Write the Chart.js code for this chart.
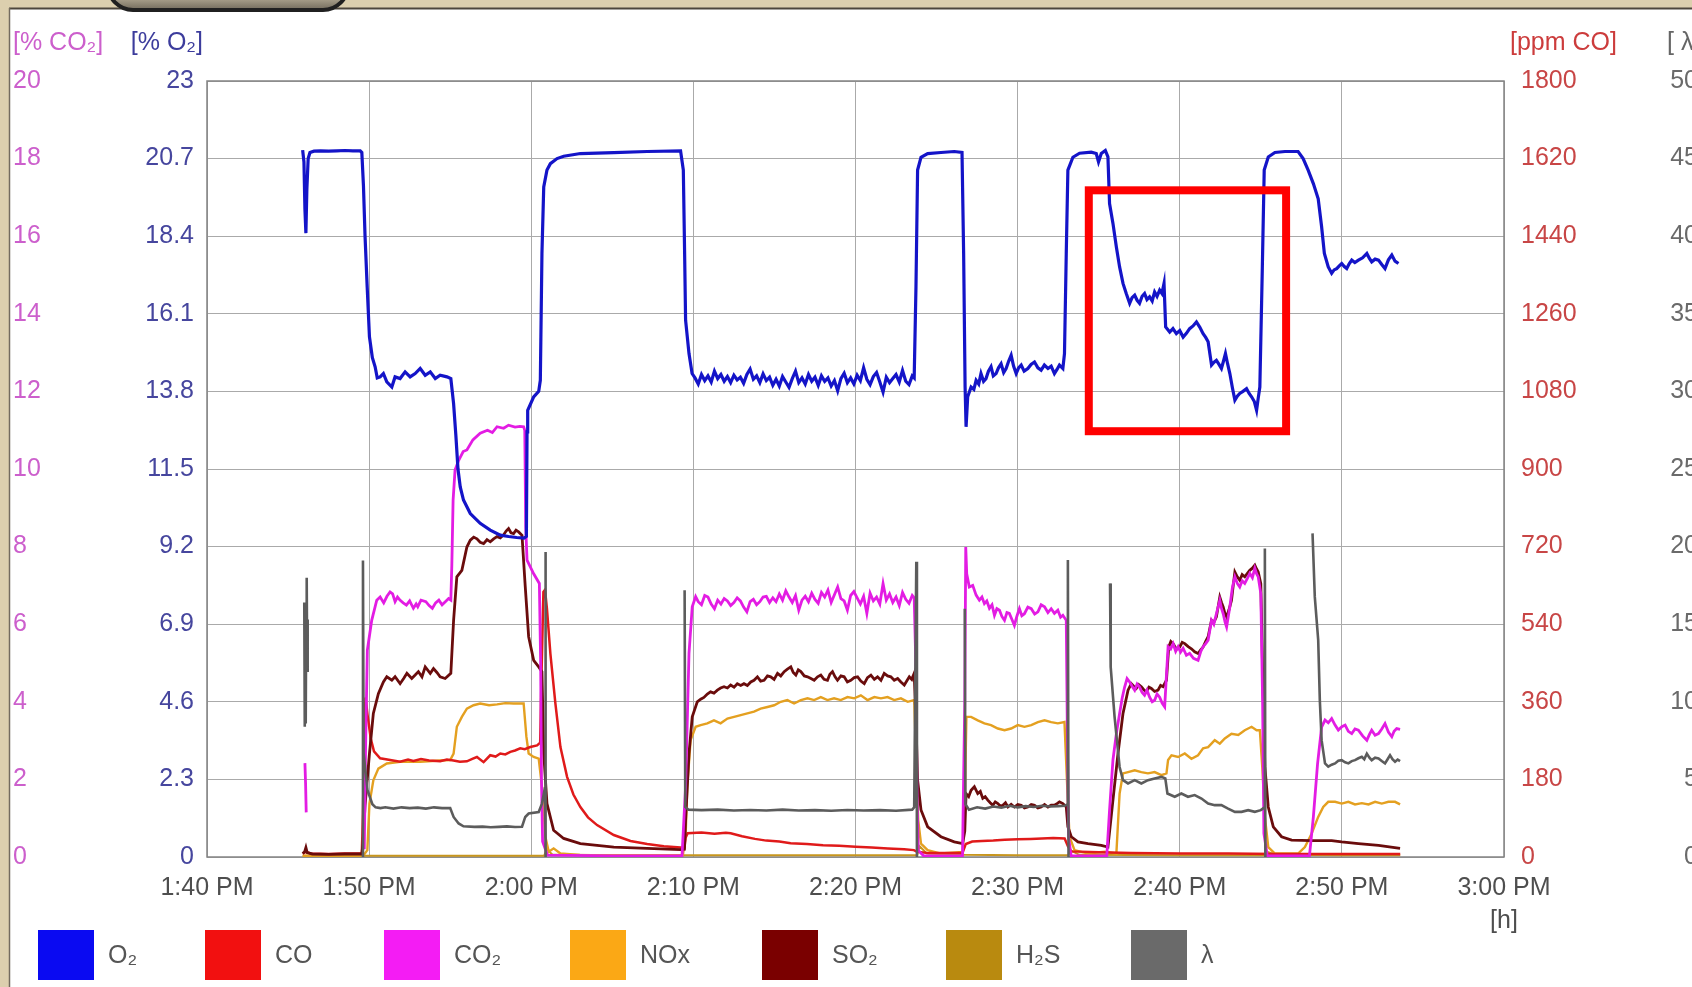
<!DOCTYPE html>
<html>
<head>
<meta charset="utf-8">
<script src="https://cdn.jsdelivr.net/npm/chart.js@4.4.1/dist/chart.umd.min.js"></script>
<style>
  html, body { margin: 0; padding: 0; background: #ffffff; overflow: hidden; }
  #wrap { position: relative; width: 1700px; height: 987px; }
  canvas { display: block; }
</style>
</head>
<body>
<div id="wrap"><canvas id="flue" width="1700" height="987"></canvas></div>
<script>
// Time axis: minutes after 1:40 PM
const timeTickMinutes = [0, 10, 20, 30, 40, 50, 60, 70, 80];
const timeTickLabels = ['1:40 PM', '1:50 PM', '2:00 PM', '2:10 PM', '2:20 PM', '2:30 PM', '2:40 PM', '2:50 PM', '3:00 PM'];

const co2TickValues = [0, 2, 4, 6, 8, 10, 12, 14, 16, 18, 20];
const o2TickValues = [0, 2.3, 4.6, 6.9, 9.2, 11.5, 13.8, 16.1, 18.4, 20.7, 23];
const o2TickLabels = ['0', '2.3', '4.6', '6.9', '9.2', '11.5', '13.8', '16.1', '18.4', '20.7', '23'];
const coTickValues = [0, 180, 360, 540, 720, 900, 1080, 1260, 1440, 1620, 1800];
const lambdaTickValues = [0, 5, 10, 15, 20, 25, 30, 35, 40, 45, 50];

// Readings as [minute, value]; null marks a gap in the record
const o2Readings = [
  [5.90,20.95],[5.98,20.6],[6.04,19.2],[6.10,18.49],[6.16,19.8],[6.24,20.7],[6.35,20.88],[6.60,20.92],
  [7.00,20.93],[7.50,20.92],[8.00,20.93],[8.50,20.94],[9.00,20.93],[9.45,20.93],[9.55,20.88],[9.65,19.9],
  [9.75,18.38],[9.88,16.9],[10.02,15.42],[10.20,14.8],[10.37,14.53],[10.50,14.2],[10.68,14.23],[10.88,14.33],
  [11.09,14.08],[11.40,13.93],[11.60,14.23],[11.91,14.18],[12.22,14.38],[12.53,14.23],[12.84,14.33],[13.15,14.48],
  [13.46,14.28],[13.77,14.38],[14.08,14.18],[14.38,14.28],[14.80,14.23],[15.04,14.18],[15.21,13.44],[15.35,12.5],
  [15.48,11.5],[15.62,10.97],[15.82,10.58],[16.24,10.18],[16.85,9.89],[17.47,9.69],[18.09,9.54],[18.60,9.5],
  [19.10,9.47],[19.55,9.45],[19.70,9.5],[19.74,12.6],[19.78,13.24],[20.15,13.64],[20.46,13.80],[20.56,14.13],
  [20.66,17.89],[20.77,19.86],[20.97,20.36],[21.18,20.55],[21.59,20.70],[22.00,20.77],[23.03,20.85],[25.09,20.88],
  [27.15,20.91],[29.21,20.93],[29.38,20.36],[29.46,17.89],[29.52,15.91],[29.73,14.92],[29.92,14.33],
  [30.10,14.20],[30.30,14.02],[30.50,14.30],[30.70,14.12],[30.90,14.26],[31.10,14.08],[31.30,14.40],[31.50,14.18],
  [31.70,14.30],[31.90,14.10],[32.10,14.24],[32.30,14.06],[32.50,14.28],[32.70,14.14],[32.90,14.22],[33.10,14.04],
  [33.30,14.30],[33.50,14.46],[33.70,14.16],[33.90,14.26],[34.10,14.06],[34.30,14.32],[34.50,14.12],[34.70,14.22],
  [34.90,13.98],[35.10,14.16],[35.30,13.96],[35.50,14.24],[35.70,14.08],[35.90,13.92],[36.10,14.18],[36.30,14.40],
  [36.50,14.06],[36.70,14.20],[36.90,14.02],[37.10,14.30],[37.30,14.10],[37.50,14.22],[37.70,13.98],[37.90,14.26],
  [38.10,14.10],[38.30,14.20],[38.50,13.96],[38.70,14.12],[38.90,13.82],[39.10,14.18],[39.30,14.34],[39.50,14.06],
  [39.70,14.20],[39.90,14.02],[40.10,14.28],[40.30,14.12],[40.50,14.50],[40.70,14.16],[40.90,14.00],[41.10,14.24],
  [41.30,14.36],[41.50,14.08],[41.70,13.78],[41.90,14.22],[42.10,14.06],[42.30,14.18],[42.50,14.30],[42.70,14.08],
  [42.90,14.42],[43.10,14.10],[43.30,14.00],[43.50,14.26],[43.62,14.20],
  [43.73,16.90],[43.83,20.36],[44.04,20.74],[44.45,20.85],[45.27,20.88],[46.09,20.91],[46.57,20.88],[46.67,17.89],
  [46.76,13.93],[46.82,12.75],[46.92,13.64],[47.13,13.93],[47.30,13.86],[47.44,14.13],[47.60,14.02],[47.74,14.33],
  [47.90,14.10],[48.05,14.18],[48.20,14.40],[48.36,14.53],[48.50,14.26],[48.67,14.33],[48.82,14.50],[48.98,14.62],
  [49.14,14.36],[49.29,14.48],[49.45,14.70],[49.60,14.87],[49.75,14.55],[49.91,14.33],[50.06,14.50],[50.22,14.58],
  [50.40,14.40],[50.63,14.48],[50.83,14.60],[51.04,14.67],[51.25,14.50],[51.45,14.43],[51.65,14.58],[51.87,14.48],
  [52.07,14.55],[52.27,14.33],[52.43,14.45],[52.58,14.58],[52.79,14.48],[52.89,14.92],[53.00,17.89],[53.10,20.36],
  [53.41,20.74],[53.82,20.86],[54.54,20.89],[54.85,20.85],[54.99,20.60],[55.16,20.85],[55.41,20.94],[55.57,20.75],
  [55.67,19.37],[55.88,18.78],[56.09,18.08],[56.29,17.49],[56.50,17.00],[56.70,16.70],[56.91,16.41],[57.06,16.58],
  [57.22,16.65],[57.37,16.50],[57.52,16.41],[57.68,16.62],[57.83,16.70],[57.98,16.52],[58.14,16.60],[58.30,16.48],
  [58.45,16.75],[58.60,16.62],[58.76,16.80],[58.90,16.70],[59.03,17.00],[59.13,15.71],[59.38,15.56],[59.58,15.66],
  [59.79,15.51],[60.00,15.60],[60.21,15.41],[60.41,15.52],[60.61,15.66],[60.82,15.74],[61.03,15.86],[61.24,15.70],
  [61.44,15.51],[61.60,15.40],[61.75,15.27],[61.96,14.58],[62.10,14.66],[62.26,14.72],[62.42,14.60],[62.57,14.48],
  [62.70,14.70],[62.82,14.92],[62.95,14.62],[63.09,14.33],[63.25,13.90],[63.40,13.54],[63.55,13.66],[63.70,13.74],
  [63.90,13.80],[64.12,13.88],[64.28,13.74],[64.43,13.64],[64.60,13.50],[64.74,13.24],[64.84,13.60],[64.94,13.93],
  [65.09,17.39],[65.21,20.36],[65.46,20.75],[65.87,20.88],[66.49,20.91],[67.30,20.91],[67.61,20.70],[67.92,20.36],
  [68.24,19.96],[68.54,19.51],[68.75,18.68],[68.92,17.89],[69.16,17.49],[69.37,17.30],[69.52,17.40],[69.68,17.44],
  [69.84,17.52],[69.99,17.59],[70.15,17.50],[70.30,17.44],[70.45,17.58],[70.61,17.69],[70.80,17.62],[71.02,17.69],
  [71.28,17.76],[71.54,17.89],[71.70,17.74],[71.84,17.64],[72.05,17.72],[72.26,17.69],[72.46,17.56],[72.66,17.44],
  [72.87,17.70],[73.08,17.84],[73.28,17.66],[73.49,17.59]
];

const co2Readings = [
  [6.04,2.42],[6.08,1.9],[6.12,1.15],[6.20,null],
  [9.70,0.2],[9.78,2.8],[9.89,5.33],[10.16,6.10],[10.47,6.62],[10.68,6.70],[10.90,6.55],[11.10,6.72],[11.29,6.83],
  [11.45,6.78],[11.60,6.58],[11.75,6.70],[11.90,6.62],[12.10,6.55],[12.30,6.49],[12.50,6.60],[12.73,6.41],[12.90,6.52],
  [13.00,6.45],[13.20,6.62],[13.50,6.58],[13.70,6.48],[13.90,6.41],[14.10,6.55],[14.30,6.62],[14.50,6.50],[14.70,6.58],
  [14.90,6.66],[15.04,6.62],[15.10,7.5],[15.18,9.2],[15.30,9.97],[15.50,10.2],[15.80,10.45],[16.03,10.49],
  [16.40,10.75],[16.85,10.92],[17.30,11.0],[17.60,10.94],[17.89,11.09],[18.30,11.05],[18.60,11.13],[19.00,11.08],
  [19.30,11.1],[19.53,11.09],[19.60,11.0],[19.66,8.5],[19.74,7.65],[20.15,7.3],[20.50,7.05],[20.58,5.0],[20.63,2.0],
  [20.70,0.4],[21.00,0.05],[25.00,0.03],[29.30,0.03],[29.52,1.81],[29.73,5.25],[29.93,6.45],[30.14,6.71],
  [30.30,6.58],[30.50,6.50],[30.70,6.74],[30.90,6.70],[31.10,6.52],[31.30,6.40],[31.50,6.62],[31.70,6.52],
  [31.90,6.66],[32.10,6.60],[32.30,6.48],[32.50,6.56],[32.70,6.68],[32.90,6.60],[33.10,6.44],[33.30,6.32],
  [33.50,6.58],[33.70,6.64],[33.90,6.50],[34.10,6.58],[34.30,6.70],[34.50,6.72],[34.70,6.56],[34.90,6.68],
  [35.10,6.58],[35.30,6.78],[35.50,6.62],[35.70,6.86],[35.90,6.70],[36.10,6.56],[36.30,6.74],[36.50,6.36],
  [36.70,6.62],[36.90,6.72],[37.10,6.58],[37.30,6.80],[37.50,6.64],[37.70,6.54],[37.90,6.82],[38.10,6.70],
  [38.30,6.88],[38.50,6.56],[38.70,6.76],[38.90,6.96],[39.10,6.66],[39.30,6.60],[39.50,6.36],[39.70,6.74],
  [39.90,6.84],[40.10,6.68],[40.30,6.52],[40.50,6.72],[40.70,6.28],[40.90,6.80],[41.10,6.60],[41.30,6.70],
  [41.50,6.52],[41.70,7.05],[41.90,6.62],[42.10,6.78],[42.30,6.56],[42.50,6.70],[42.70,6.48],[42.90,6.82],
  [43.10,6.64],[43.30,6.54],[43.50,6.74],[43.62,6.68],[43.73,4.82],[43.79,1.81],[43.87,0.17],[44.20,0.03],
  [46.60,0.03],[46.74,4.0],[46.80,7.99],[46.86,7.3],[47.02,6.96],[47.23,7.0],[47.44,6.75],[47.64,6.62],
  [47.80,6.70],[47.95,6.53],[48.10,6.60],[48.26,6.41],[48.42,6.50],[48.57,6.23],[48.72,6.40],[48.88,6.36],
  [49.03,6.20],[49.19,6.10],[49.34,6.30],[49.49,6.28],[49.65,6.12],[49.80,5.97],[49.95,6.20],[50.11,6.40],
  [50.26,6.22],[50.42,6.27],[50.63,6.44],[50.84,6.40],[51.05,6.26],[51.25,6.32],[51.45,6.50],[51.66,6.45],
  [51.87,6.30],[52.07,6.40],[52.27,6.28],[52.48,6.36],[52.65,6.18],[52.79,6.23],[53.00,6.10],[53.06,3.53],
  [53.14,0.52],[53.30,0.03],[55.50,0.03],[55.67,1.21],[55.88,2.50],[56.09,3.18],[56.29,3.70],[56.45,4.10],
  [56.60,4.38],[56.75,4.60],[56.91,4.51],[57.06,4.40],[57.22,4.30],[57.37,4.46],[57.52,4.38],[57.68,4.24],
  [57.83,4.17],[57.98,4.30],[58.14,4.12],[58.30,4.00],[58.45,4.04],[58.60,4.20],[58.76,4.12],[58.92,3.96],
  [59.07,3.87],[59.28,5.42],[59.44,5.36],[59.59,5.50],[59.75,5.30],[59.90,5.42],[60.05,5.28],[60.21,5.38],
  [60.41,5.20],[60.61,5.25],[60.85,5.12],[61.13,5.07],[61.30,5.30],[61.44,5.42],[61.60,5.50],[61.75,5.59],
  [61.96,6.10],[62.10,6.00],[62.26,6.27],[62.47,6.62],[62.58,6.40],[62.68,6.27],[62.80,6.05],[62.89,5.93],
  [63.09,6.45],[63.25,6.95],[63.40,7.22],[63.55,7.05],[63.70,6.96],[63.85,7.12],[64.01,7.05],[64.17,7.18],
  [64.32,7.31],[64.48,7.20],[64.63,7.44],[64.74,7.30],[64.84,7.22],[65.00,6.79],[65.11,4.04],[65.19,0.61],
  [65.40,0.03],[68.00,0.03],[68.24,1.03],[68.50,2.4],[68.75,3.35],[68.96,3.53],[69.16,3.46],[69.37,3.57],
  [69.58,3.40],[69.78,3.27],[70.00,3.36],[70.20,3.40],[70.40,3.24],[70.61,3.18],[70.81,3.30],[71.02,3.27],
  [71.28,3.12],[71.54,3.01],[71.70,3.16],[71.84,3.27],[72.05,3.14],[72.26,3.18],[72.46,3.30],[72.66,3.44],
  [72.87,3.22],[73.08,3.10],[73.22,3.24],[73.38,3.31],[73.59,3.29]
];

const coReadings = [
  [5.90,8],[6.10,12],[6.40,8],[7.50,7],[8.50,8],[9.55,8],[9.62,100],[9.70,300],[9.78,370],[9.90,330],[10.10,275],
  [10.30,245],[10.68,229],[11.30,225],[11.91,221],[12.40,226],[12.73,223],[13.20,227],[13.70,224],[14.38,222],
  [14.80,226],[15.20,224],[15.60,221],[16.03,222],[16.40,228],[16.65,232],[17.06,220],[17.47,236],[17.80,233],
  [18.09,240],[18.40,238],[18.71,244],[19.00,247],[19.32,252],[19.60,250],[19.94,255],[20.36,259],[20.55,265],
  [20.65,450],[20.75,615],[20.85,620],[20.97,575],[21.18,472],[21.49,356],[21.80,255],[22.21,186],[22.60,145],
  [23.03,116],[23.50,92],[24.06,74],[25.09,51],[26.12,37],[27.15,30],[28.18,25],[29.21,22],[29.45,22],[29.52,45],
  [29.65,55],[30.50,57],[31.30,54],[32.00,56],[32.30,55],[33.00,48],[33.80,42],[34.50,38],[35.30,36],[36.00,32],
  [37.00,30],[38.00,27],[39.00,26],[40.00,24],[41.00,22],[42.00,20],[43.00,18],[43.60,16],[43.80,12],[44.50,9],
  [46.60,9],[46.80,30],[47.20,36],[47.80,37],[48.50,38],[49.20,40],[50.00,41],[50.80,42],[51.50,43],[52.20,44],
  [52.90,43],[53.10,25],[53.30,13],[55.00,11],[57.00,9],[60.00,8],[63.00,8],[66.00,7],[70.00,7],[73.60,7]
];

const noxReadings = [
  [5.90,3],[7.50,3],[9.55,3],[9.70,6],[9.89,16],[10.02,124],[10.26,178],[10.57,205],[11.09,217],[11.91,221],
  [13.15,221],[14.38,224],[15.00,225],[15.21,240],[15.41,302],[15.72,325],[16.03,344],[16.44,352],[16.85,356],
  [17.40,352],[17.89,354],[18.40,357],[18.91,356],[19.53,356],[19.70,279],[19.84,240],[20.15,232],[20.46,228],
  [20.66,163],[20.87,47],[21.08,12],[21.38,20],[21.80,8],[23.00,5],[26.00,4],[29.35,4],[29.52,47],[29.62,163],
  [29.83,271],[30.14,302],[30.45,306],[30.86,310],[31.27,317],[31.68,310],[32.10,321],[32.51,325],[32.92,329],
  [33.33,333],[33.74,337],[34.15,344],[34.57,348],[34.98,352],[35.39,360],[35.80,364],[36.21,356],[36.63,364],
  [37.04,368],[37.45,364],[37.86,371],[38.27,364],[38.68,368],[39.09,364],[39.51,371],[39.92,368],[40.33,375],
  [40.74,364],[41.16,371],[41.57,368],[41.98,371],[42.39,364],[42.80,368],[43.22,360],[43.62,364],[43.73,240],
  [43.87,85],[44.04,31],[44.45,16],[45.27,8],[46.61,12],[46.76,163],[46.84,325],[47.13,325],[47.54,317],
  [47.95,310],[48.36,306],[48.78,298],[49.19,294],[49.60,298],[50.01,306],[50.42,302],[50.84,306],[51.25,313],
  [51.66,317],[52.07,313],[52.48,310],[52.89,313],[53.06,163],[53.20,47],[53.51,16],[54.34,8],[55.37,12],
  [56.09,8],[56.29,147],[56.50,194],[56.81,197],[57.22,201],[57.63,197],[58.04,194],[58.45,197],[58.87,190],
  [59.18,194],[59.28,225],[59.49,236],[59.90,232],[60.31,240],[60.72,228],[61.13,236],[61.44,252],[61.75,255],
  [62.16,271],[62.47,263],[62.78,275],[63.19,286],[63.61,283],[64.01,294],[64.43,302],[64.74,294],[64.94,294],
  [65.09,209],[65.25,93],[65.46,23],[65.87,8],[67.30,8],[67.72,23],[68.13,54],[68.54,93],[68.85,116],[69.16,128],
  [69.58,128],[69.99,124],[70.40,128],[70.81,122],[71.23,125],[71.64,122],[72.05,128],[72.46,124],[72.87,128],
  [73.28,128],[73.59,122]
];

const so2Readings = [
  [5.90,8],[6.02,12],[6.10,22],[6.18,10],[6.50,7],[7.50,6],[8.50,7],[9.55,7],[9.62,30],[9.75,120],[10.02,240],
  [10.26,333],[10.57,379],[10.88,406],[11.09,418],[11.40,410],[11.60,418],[11.91,402],[12.13,414],[12.33,426],
  [12.63,414],[12.84,422],[13.04,430],[13.26,418],[13.46,441],[13.77,426],[13.97,437],[14.18,428],[14.38,418],
  [14.69,414],[15.04,426],[15.21,549],[15.41,650],[15.72,665],[16.03,719],[16.24,735],[16.45,742],[16.65,738],
  [16.85,730],[17.06,727],[17.27,736],[17.47,731],[17.68,738],[17.89,743],[18.09,740],[18.29,747],[18.45,756],
  [18.60,762],[18.75,752],[18.91,750],[19.06,758],[19.22,754],[19.43,746],[19.63,627],[19.84,511],[20.15,456],
  [20.46,441],[20.66,430],[20.77,240],[20.97,124],[21.38,62],[22.00,43],[23.03,31],[25.09,23],[27.15,20],
  [29.21,17],[29.45,18],[29.52,85],[29.73,240],[29.93,325],[30.24,360],[30.45,366],[30.65,370],[30.86,378],
  [31.06,383],[31.27,380],[31.48,387],[31.68,392],[31.89,395],[32.10,392],[32.30,399],[32.51,394],[32.71,402],
  [32.92,398],[33.12,402],[33.33,398],[33.54,406],[33.74,410],[33.95,418],[34.15,408],[34.36,410],[34.57,420],
  [34.77,418],[34.98,412],[35.19,426],[35.39,420],[35.60,430],[35.80,436],[36.01,441],[36.16,428],[36.32,422],
  [36.47,434],[36.63,430],[36.84,420],[37.04,418],[37.25,414],[37.45,410],[37.66,418],[37.86,422],[38.06,412],
  [38.27,410],[38.42,424],[38.58,430],[38.74,418],[38.89,410],[39.10,420],[39.30,418],[39.50,406],[39.71,410],
  [39.92,416],[40.13,418],[40.33,408],[40.54,402],[40.74,416],[40.95,422],[41.16,412],[41.36,418],[41.57,410],
  [41.77,426],[41.98,420],[42.18,418],[42.39,410],[42.60,414],[42.80,406],[43.01,399],[43.16,408],[43.32,418],
  [43.47,412],[43.62,426],[43.73,317],[43.83,178],[44.04,109],[44.45,70],[45.27,47],[46.09,35],[46.61,31],
  [46.74,60],[46.82,147],[46.98,140],[47.13,155],[47.33,163],[47.54,147],[47.70,152],[47.85,136],[48.00,140],
  [48.16,132],[48.31,126],[48.47,120],[48.62,128],[48.78,124],[48.94,118],[49.09,120],[49.25,126],[49.40,116],
  [49.60,122],[49.80,116],[50.01,122],[50.22,120],[50.42,114],[50.63,116],[50.84,122],[51.04,120],[51.25,114],
  [51.45,116],[51.66,122],[51.87,116],[52.07,120],[52.27,120],[52.43,124],[52.58,128],[52.79,124],[53.00,116],
  [53.10,70],[53.31,47],[53.72,35],[54.34,31],[55.16,27],[55.57,23],[55.88,132],[56.19,240],[56.50,333],
  [56.81,387],[57.01,402],[57.16,396],[57.32,391],[57.47,400],[57.63,395],[57.78,388],[57.94,383],[58.10,394],
  [58.25,391],[58.45,384],[58.66,387],[58.82,398],[58.97,395],[59.18,410],[59.32,487],[59.45,500],[59.59,495],
  [59.80,482],[60.00,487],[60.15,498],[60.31,495],[60.52,488],[60.72,483],[60.92,476],[61.13,472],[61.28,480],
  [61.44,487],[61.60,500],[61.75,511],[61.96,549],[62.10,544],[62.26,557],[62.47,603],[62.58,590],[62.68,580],
  [62.78,566],[62.89,557],[63.04,574],[63.19,595],[63.30,630],[63.40,661],[63.55,650],[63.70,642],[63.85,655],
  [64.01,650],[64.17,658],[64.32,665],[64.48,670],[64.63,677],[64.74,668],[64.84,661],[65.00,634],[65.15,364],
  [65.25,209],[65.46,116],[65.77,70],[66.28,47],[66.90,39],[68.13,38],[69.37,38],[69.99,35],[71.02,31],
  [72.26,27],[73.59,20]
];

const h2sReadings = [
  [5.90,3],[12.00,3],[20.80,3],[20.95,18],[21.30,6],[25.00,4],[29.40,4],[36.00,4],[43.80,4],[43.95,25],
  [44.40,8],[46.70,5],[50.00,4],[53.10,4],[53.30,15],[53.80,5],[60.00,4],[65.20,4],[65.40,12],[66.00,5],
  [70.00,4],[73.60,4]
];

const lambdaReadings = [
  [6.00,16.4],[6.03,8.4],[6.06,16.0],[6.09,8.6],[6.12,15.8],[6.15,18.0],[6.18,12.0],[6.21,15.3],[6.30,null],
  [9.60,0],[9.62,19.1],[9.66,6.7],[9.90,4.3],[10.20,3.4],[10.40,3.2],[10.70,3.15],[11.00,3.2],[11.50,3.12],
  [12.00,3.2],[12.50,3.15],[13.00,3.18],[13.50,3.12],[14.00,3.2],[14.50,3.15],[15.00,3.15],[15.21,2.58],
  [15.52,2.16],[15.82,1.98],[16.50,1.94],[17.00,1.96],[17.50,1.92],[18.00,1.94],[18.50,1.97],[19.00,1.93],
  [19.43,1.95],[19.63,2.58],[19.84,2.80],[20.46,2.90],[20.66,3.44],[20.85,4.5],[20.87,19.66],[20.90,0],[21.00,null],
  [29.46,17.19],[29.50,3.23],[29.70,3.05],[30.50,3.02],[31.50,3.05],[32.50,3.0],[33.50,3.03],[34.50,3.0],
  [35.50,3.05],[36.50,3.0],[37.50,3.02],[38.50,2.98],[39.50,3.03],[40.50,3.0],[41.50,3.02],[42.50,2.98],
  [43.50,3.05],[43.62,3.2],[43.75,19.02],[43.79,0],[43.90,null],
  [46.74,16.0],[46.78,3.4],[47.00,3.05],[47.50,3.2],[48.00,3.12],[48.50,3.25],[49.00,3.18],[49.50,3.3],
  [50.00,3.2],[50.50,3.28],[51.00,3.22],[51.50,3.3],[52.00,3.25],[52.50,3.28],[52.90,3.3],[53.08,3.4],
  [53.10,19.13],[53.14,0],[53.20,null],
  [55.70,17.63],[55.74,12.25],[55.98,9.03],[56.29,5.8],[56.50,4.95],[56.81,4.74],[57.22,4.95],[57.63,4.74],
  [58.04,4.95],[58.45,5.06],[58.87,5.16],[59.11,5.06],[59.24,4.09],[59.69,3.88],[60.10,4.09],[60.51,3.88],
  [60.92,3.99],[61.34,3.77],[61.75,3.45],[62.16,3.34],[62.57,3.34],[62.98,3.12],[63.40,2.91],[63.81,2.91],
  [64.22,3.02],[64.63,2.91],[65.00,3.02],[65.23,3.2],[65.25,19.88],[65.28,0],[65.35,null],
  [68.19,20.85],[68.33,16.76],[68.54,13.97],[68.64,10.1],[68.75,7.53],[68.96,6.03],[69.16,5.82],[69.37,5.95],
  [69.58,6.03],[69.78,6.20],[69.99,6.24],[70.20,6.10],[70.40,6.03],[70.61,6.18],[70.81,6.24],[71.02,6.36],
  [71.23,6.45],[71.38,6.30],[71.54,6.66],[71.70,6.40],[71.84,6.24],[72.05,6.40],[72.26,6.35],[72.46,6.18],
  [72.66,6.03],[72.82,6.30],[72.97,6.56],[73.12,6.30],[73.28,6.14],[73.44,6.28],[73.59,6.18]
];

// Highlighted interval on the O2 trace
const focusMinutes = [54.39, 66.56];
const focusO2 = [12.62, 19.76];

const FONT = '"Liberation Sans", Arial, Helvetica, sans-serif';
const FONT_SIZE = 25;
const toPoints = rows => rows.map(([x, y]) => ({ x, y }));

// Page frame: beige edge strips and the dark tab at the top
const pageFrame = {
  id: 'pageFrame',
  beforeDraw(chart) {
    const ctx = chart.ctx;
    const w = chart.width, h = chart.height;
    ctx.save();
    ctx.fillStyle = '#ffffff';
    ctx.fillRect(0, 0, w, h);
    ctx.fillStyle = '#dccfae';
    ctx.fillRect(0, 0, w, 8);
    ctx.fillRect(0, 0, 9, h);
    ctx.strokeStyle = '#4d463c';
    ctx.lineWidth = 2;
    ctx.beginPath(); ctx.moveTo(9, 8.5); ctx.lineTo(w, 8.5); ctx.stroke();
    ctx.strokeStyle = '#736b5f';
    ctx.lineWidth = 1.5;
    ctx.beginPath(); ctx.moveTo(9.5, 8); ctx.lineTo(9.5, h); ctx.stroke();
    const g = ctx.createLinearGradient(0, 0, 0, 11);
    g.addColorStop(0, '#a39a86');
    g.addColorStop(1, '#6c6557');
    ctx.fillStyle = g;
    ctx.beginPath();
    ctx.roundRect(108, -40, 240, 50, 32);
    ctx.fill();
    ctx.strokeStyle = '#202020';
    ctx.lineWidth = 4;
    ctx.stroke();
    ctx.restore();
  }
};

// Frame round the plotting area
const plotFrame = {
  id: 'plotFrame',
  beforeDatasetsDraw(chart) {
    const { ctx, chartArea: a } = chart;
    ctx.save();
    ctx.strokeStyle = '#848484';
    ctx.lineWidth = 1.5;
    ctx.strokeRect(a.left, a.top, a.right - a.left, a.bottom - a.top);
    ctx.restore();
  }
};

// Red rectangle marking the stepped O2 interval
const focusBox = {
  id: 'focusBox',
  afterDatasetsDraw(chart) {
    const { ctx } = chart;
    const xs = chart.scales.x, ys = chart.scales.yO2;
    const l = xs.getPixelForValue(focusMinutes[0]);
    const r = xs.getPixelForValue(focusMinutes[1]);
    const t = ys.getPixelForValue(focusO2[1]);
    const b = ys.getPixelForValue(focusO2[0]);
    ctx.save();
    ctx.strokeStyle = '#ff0000';
    ctx.lineWidth = 8;
    ctx.strokeRect(l, t, r - l, b - t);
    ctx.restore();
  }
};

// Unit captions above the four value axes and the time unit
const axisCaptions = {
  id: 'axisCaptions',
  afterDraw(chart) {
    const { ctx, scales } = chart;
    ctx.save();
    ctx.font = FONT_SIZE + 'px ' + FONT;
    ctx.textBaseline = 'middle';
    const y = 43;
    ctx.textAlign = 'left';
    ctx.fillStyle = '#cc5fcc';
    ctx.fillText('[% CO₂]', scales.yCO2.left, y);
    ctx.textAlign = 'right';
    ctx.fillStyle = '#3c3c9c';
    ctx.fillText('[% O₂]', scales.yO2.right - 4, y);
    ctx.textAlign = 'left';
    ctx.fillStyle = '#cc3c3c';
    ctx.fillText('[ppm CO]', scales.yCO.left + 6, y);
    ctx.fillStyle = '#666666';
    ctx.fillText('[ λ ]', scales.yLam.left + 33, y);
    ctx.textAlign = 'center';
    ctx.fillStyle = '#4e4e4e';
    ctx.fillText('[h]', scales.x.right, 921);
    ctx.restore();
  }
};

// Legend row: colour swatch followed by the series name
const legendSwatchLeft = [38, 205, 384, 570, 762, 946, 1131];
const legendRow = {
  id: 'legendRow',
  afterDraw(chart) {
    const ctx = chart.ctx;
    ctx.save();
    ctx.font = FONT_SIZE + 'px ' + FONT;
    ctx.textBaseline = 'middle';
    ctx.textAlign = 'left';
    chart.data.datasets.forEach((ds, i) => {
      const x = legendSwatchLeft[i];
      ctx.fillStyle = ds.backgroundColor;
      ctx.fillRect(x, 930, 56, 50);
      ctx.fillStyle = '#555555';
      ctx.fillText(ds.label, x + 70, 956);
    });
    ctx.restore();
  }
};

const lineDefaults = { pointRadius: 0, tension: 0, spanGaps: false, fill: false };

const datasets = [
  { ...lineDefaults, label: 'O₂', data: toPoints(o2Readings), yAxisID: 'yO2',
    borderColor: '#1414c8', backgroundColor: '#0a0af2', borderWidth: 3.2, order: 1 },
  { ...lineDefaults, label: 'CO', data: toPoints(coReadings), yAxisID: 'yCO',
    borderColor: '#e01a1a', backgroundColor: '#f21010', borderWidth: 2.5, order: 4 },
  { ...lineDefaults, label: 'CO₂', data: toPoints(co2Readings), yAxisID: 'yCO2',
    borderColor: '#e31ce3', backgroundColor: '#f41cf4', borderWidth: 2.8, order: 2 },
  { ...lineDefaults, label: 'NOx', data: toPoints(noxReadings), yAxisID: 'yCO',
    borderColor: '#e4a020', backgroundColor: '#fba815', borderWidth: 2.4, order: 5 },
  { ...lineDefaults, label: 'SO₂', data: toPoints(so2Readings), yAxisID: 'yCO',
    borderColor: '#6a0c0c', backgroundColor: '#7a0000', borderWidth: 2.8, order: 3 },
  { ...lineDefaults, label: 'H₂S', data: toPoints(h2sReadings), yAxisID: 'yCO',
    borderColor: '#c8961e', backgroundColor: '#b98a0f', borderWidth: 2, order: 6 },
  { ...lineDefaults, label: 'λ', data: toPoints(lambdaReadings), yAxisID: 'yLam',
    borderColor: '#5c5c5c', backgroundColor: '#6a6a6a', borderWidth: 2.6, order: 0 }
];

const tickFont = { family: FONT, size: FONT_SIZE };
const fixedTicks = values => scale => { scale.ticks = values.map(v => ({ value: v })); };

new Chart(document.getElementById('flue'), {
  type: 'line',
  data: { datasets },
  plugins: [pageFrame, plotFrame, focusBox, axisCaptions, legendRow],
  options: {
    responsive: false,
    animation: false,
    devicePixelRatio: 1,
    events: [],
    layout: { padding: { left: 13, right: 2, top: 81, bottom: 90 } },
    plugins: { legend: { display: false }, tooltip: { enabled: false }, title: { display: false } },
    scales: {
      x: {
        type: 'linear', position: 'bottom', min: 0, max: 80,
        afterBuildTicks: fixedTicks(timeTickMinutes),
        afterFit: s => { s.height = 40; },
        ticks: { callback: (v, i) => timeTickLabels[i], color: '#4e4e4e', font: tickFont,
                 padding: 16, maxRotation: 0, autoSkip: false },
        grid: { color: '#aaaaaa', lineWidth: 1, drawTicks: false },
        border: { display: false }
      },
      yCO2: {
        type: 'linear', position: 'left', weight: 2, min: 0, max: 20,
        afterBuildTicks: fixedTicks(co2TickValues),
        afterFit: s => { s.width = 100; },
        ticks: { crossAlign: 'far', color: '#cc5fcc', font: tickFont, autoSkip: false,
                 callback: v => String(v) },
        grid: { display: false, drawTicks: false },
        border: { display: false }
      },
      yO2: {
        type: 'linear', position: 'left', weight: 1, min: 0, max: 23,
        afterBuildTicks: fixedTicks(o2TickValues),
        afterFit: s => { s.width = 94; },
        ticks: { crossAlign: 'near', padding: 13, color: '#46469e', font: tickFont, autoSkip: false,
                 callback: (v, i) => o2TickLabels[i] },
        grid: { color: '#aaaaaa', lineWidth: 1, drawTicks: false },
        border: { display: false }
      },
      yCO: {
        type: 'linear', position: 'right', weight: 1, min: 0, max: 1800,
        afterBuildTicks: fixedTicks(coTickValues),
        afterFit: s => { s.width = 130; },
        ticks: { crossAlign: 'near', padding: 17, color: '#c84646', font: tickFont, autoSkip: false,
                 callback: v => String(v) },
        grid: { display: false, drawTicks: false },
        border: { display: false }
      },
      yLam: {
        type: 'linear', position: 'right', weight: 2, min: 0, max: 50,
        afterBuildTicks: fixedTicks(lambdaTickValues),
        afterFit: s => { s.width = 64; },
        ticks: { crossAlign: 'far', color: '#6a6a6a', font: tickFont, autoSkip: false,
                 callback: v => String(v) },
        grid: { display: false, drawTicks: false },
        border: { display: false }
      }
    }
  }
});
</script>
</body>
</html>
